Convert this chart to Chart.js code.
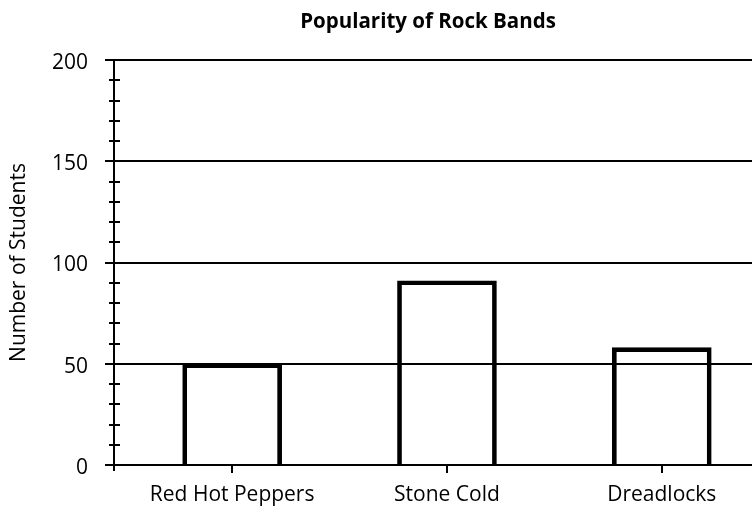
<!DOCTYPE html>
<html><head><meta charset="utf-8">
<script src="https://cdn.jsdelivr.net/npm/chart.js@4"></script>
<style>html,body{margin:0;padding:0;background:#fff;overflow:hidden}</style>
</head><body>
<canvas id="c" width="752" height="508"></canvas>
<script>
const categories = ['Red Hot Peppers', 'Stone Cold', 'Dreadlocks'];
const students = [50, 91, 58];
const yTickValues = [0, 50, 100, 150, 200];
const minorStep = 10;
const chartTitle = 'Popularity of Rock Bands';
const yTitle = 'Number of Students';
const FONT = "'Open Sans', sans-serif";

const extras = {
  id: 'extras',
  afterDraw(chart) {
    const ctx = chart.ctx, y = chart.scales.y, a = chart.chartArea;
    ctx.save();
    ctx.strokeStyle = '#000';
    ctx.lineWidth = 2;
    ctx.beginPath();
    for (let v = y.min; v <= y.max; v += minorStep) {
      if (yTickValues.includes(v)) continue;
      const py = Math.round(y.getPixelForValue(v));
      ctx.moveTo(a.left - 5, py);
      ctx.lineTo(a.left + 6, py);
    }
    ctx.moveTo(a.left, a.bottom);
    ctx.lineTo(a.left, a.bottom + 6);
    ctx.stroke();
    ctx.fillStyle = '#000';
    ctx.font = 'bold 20.5px ' + FONT;
    ctx.textAlign = 'center';
    ctx.textBaseline = 'middle';
    ctx.fillText(chartTitle, (a.left + a.right) / 2 - 5, 22);
    ctx.restore();
  }
};

new Chart(document.getElementById('c'), {
  type: 'bar',
  data: {
    datasets: [{
      data: students.map((v, i) => ({ x: i, y: v })),
      backgroundColor: 'rgba(0,0,0,0)',
      borderColor: '#000',
      borderWidth: 4,
      borderSkipped: 'bottom',
      barThickness: 99
    }]
  },
  options: {
    responsive: false,
    animation: false,
    devicePixelRatio: 1,
    layout: { padding: { top: 60, right: 0, left: 0, bottom: 0 } },
    plugins: { legend: { display: false }, tooltip: { enabled: false }, title: { display: false } },
    scales: {
      x: {
        type: 'linear',
        offset: false,
        min: -0.55,
        max: 2.42,
        afterBuildTicks: s => { s.ticks = categories.map((_, i) => ({ value: i })); },
        afterFit: s => { s.height = 43; },
        ticks: {
          autoSkip: false, maxRotation: 0, padding: 9,
          color: '#000', font: { family: FONT, size: 21 },
          callback: v => categories[v]
        },
        grid: { offset: false, drawOnChartArea: false, drawTicks: true, tickLength: 8, color: '#000', lineWidth: 2 },
        border: { display: true, color: '#000', width: 2 }
      },
      y: {
        min: 0,
        max: 200,
        afterBuildTicks: s => { s.ticks = yTickValues.map(v => ({ value: v })); },
        afterFit: s => { s.width = 114; },
        ticks: { padding: 17, labelOffset: 3, color: '#000', font: { family: FONT, size: 21 } },
        grid: { color: '#000', lineWidth: 2, tickLength: 9 },
        border: { display: true, color: '#000', width: 2 },
        title: { display: true, text: yTitle, color: '#000', font: { family: FONT, size: 21 }, padding: { top: 6, bottom: 0 } }
      }
    }
  },
  plugins: [extras]
});
</script>
</body></html>
